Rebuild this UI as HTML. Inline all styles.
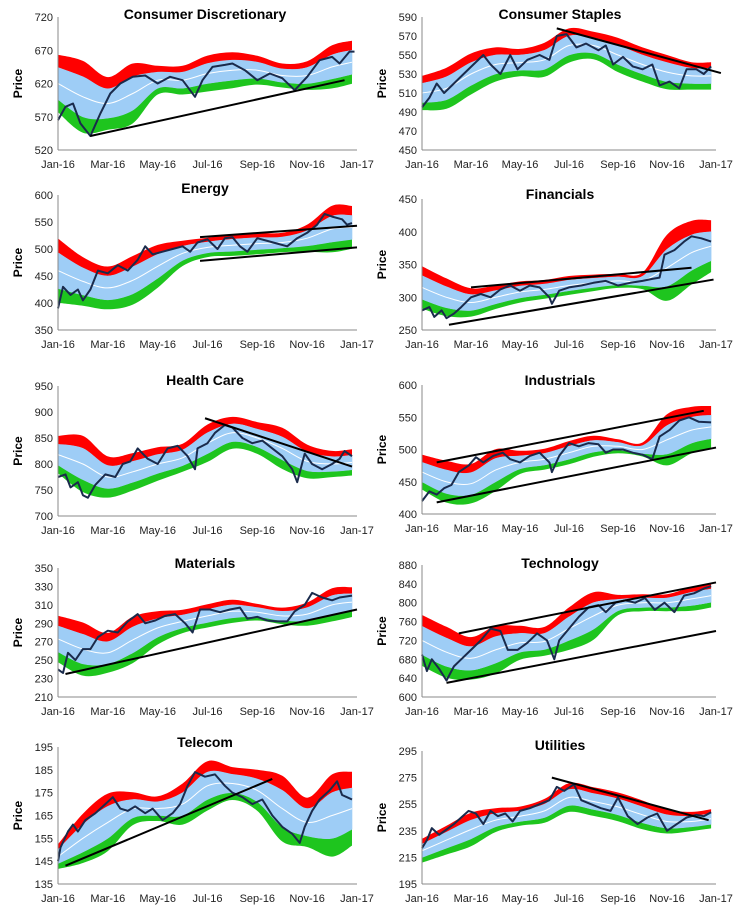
<!DOCTYPE html>
<html><head><meta charset="utf-8"><style>
html,body{margin:0;padding:0;background:#fff;}
svg{display:block;font-family:"Liberation Sans",sans-serif;}
</style></head><body>
<svg id="chart" width="742" height="912" viewBox="0 0 742 912" xmlns="http://www.w3.org/2000/svg"></svg>
<script>
// Shared band dates (months since Jan-16)
const bandX = [0,1,2,3,4,5,6,7,8,9,10,11,11.8];
const xTickLabels = ["Jan-16","Mar-16","May-16","Jul-16","Sep-16","Nov-16","Jan-17"];

// Consumer Discretionary
const cdMid = [620,600,590,605,625,625,635,640,640,632,632,645,652];
const cdW   = [24,30,22,25,12,12,15,15,12,10,12,18,18];
const cdPx  = [0,0.3,0.6,0.9,1.3,1.7,2.1,2.5,3,3.5,4,4.5,5,5.5,5.8,6.2,6.7,7,7.5,8,8.5,9,9.5,10,10.5,11,11.3,11.7,11.9];
const cdPy  = [565,585,590,560,541,575,605,620,630,632,620,630,625,600,625,645,648,650,640,625,635,628,610,630,655,660,650,668,668];
const cdTrend = [[1.3,541,11.5,625]];
const cdTicks = [520,570,620,670,720];

// Consumer Staples
const csMid = [510,515,530,540,542,545,560,560,550,540,532,528,528];
const csW   = [10,12,12,10,8,10,10,8,10,10,10,8,8];
const csPx  = [0,0.3,0.6,0.9,1.3,1.7,2.1,2.5,2.8,3.2,3.6,3.9,4.3,4.8,5.2,5.5,5.9,6.3,6.7,7.2,7.5,7.8,8.2,8.6,9,9.4,9.7,10.1,10.5,10.8,11.2,11.5,11.8];
const csPy  = [495,505,520,510,520,530,540,550,540,530,550,535,545,550,545,570,572,558,562,555,560,540,548,538,535,540,518,522,515,535,535,530,538];
const csTrend = [[5.5,578,12.2,531]];
const csTicks = [450,470,490,510,530,550,570,590];

// Energy
const enMid = [460,440,428,442,468,492,503,507,510,512,520,537,540];
const enW   = [33,25,22,25,22,13,10,11,11,10,14,24,22];
const enPx  = [0,0.2,0.5,0.8,1.0,1.3,1.6,2.0,2.4,2.8,3.2,3.5,3.8,4.2,4.6,5,5.3,5.6,6,6.4,6.7,7,7.3,7.6,8,8.4,8.8,9.2,9.6,10,10.4,10.7,11,11.4,11.6,11.8];
const enPy  = [390,430,415,425,405,425,460,455,470,460,480,505,490,495,500,505,495,512,518,500,520,522,505,495,520,515,510,505,520,530,545,565,560,555,545,548];
const enTrend = [[5.7,522,12,543],[5.7,478,12,503]];
const enTicks = [350,400,450,500,550,600];

// Financials
const fiMid = [315,300,292,300,308,312,318,322,325,325,345,368,378];
const fiW   = [18,16,12,10,9,8,8,7,6,7,28,27,22];
const fiPx  = [0,0.3,0.5,0.8,1,1.3,1.6,2,2.4,2.8,3.2,3.6,4,4.4,4.8,5.2,5.3,5.6,6,6.5,7,7.5,8,8.5,9,9.4,9.7,9.9,10.3,10.7,11,11.4,11.8];
const fiPy  = [280,285,270,280,268,275,285,300,305,300,312,318,310,318,315,300,290,310,315,318,322,325,318,322,325,328,330,365,372,385,393,390,385];
const fiTrend = [[2.0,315,11.0,345],[1.1,258,11.9,327]];
const fiTicks = [250,300,350,400,450];

// Health Care
const hcMid = [818,800,775,785,800,812,840,860,850,830,805,800,803];
const hcW   = [20,30,22,20,18,15,20,17,17,22,18,14,14];
const hcPx  = [0,0.3,0.5,0.8,1.0,1.2,1.5,1.9,2.3,2.6,2.9,3.2,3.6,4,4.4,4.8,5.2,5.5,5.6,6,6.3,6.7,7,7.4,7.8,8.2,8.6,9,9.4,9.6,9.9,10.2,10.6,11,11.3,11.5,11.8];
const hcPy  = [775,780,755,765,740,735,760,780,775,800,805,830,810,800,830,835,815,790,830,840,860,875,870,850,840,845,830,815,790,765,820,800,790,800,810,825,815];
const hcTrend = [[5.9,888,11.8,795]];
const hcTicks = [700,750,800,850,900,950];

// Industrials
const inMid = [465,450,447,468,480,485,495,505,505,500,515,530,535];
const inW   = [15,18,17,18,10,9,10,9,6,6,22,20,18];
const inPx  = [0,0.3,0.6,0.9,1.2,1.5,1.9,2.2,2.5,2.9,3.3,3.6,4,4.4,4.8,5.2,5.3,5.6,6,6.4,6.8,7.2,7.5,7.8,8.2,8.6,9,9.4,9.7,10.1,10.5,10.9,11.3,11.8];
const inPy  = [420,435,430,440,445,465,475,488,480,490,495,485,480,490,495,480,465,490,510,505,510,508,495,500,500,495,492,485,520,530,545,550,543,542];
const inTrend = [[0.6,480,11.5,560],[0.6,418,12,503]];
const inTicks = [400,450,500,550,600];

// Materials
const maMid = [273,262,258,272,285,292,298,303,302,298,300,310,313];
const maW   = [14,16,12,14,10,7,7,7,5,5,7,10,9];
const maPx  = [0,0.2,0.4,0.7,1,1.3,1.6,2,2.4,2.8,3.2,3.5,3.9,4.3,4.7,5.1,5.4,5.7,6.1,6.5,6.9,7.3,7.6,8,8.4,8.8,9.2,9.5,9.9,10.2,10.6,11,11.3,11.8];
const maPy  = [240,236,258,250,262,262,275,282,280,292,300,290,293,298,300,290,280,305,305,302,305,307,295,297,293,292,292,303,310,323,318,315,318,320];
const maTrend = [[0.3,235,12,305]];
const maTicks = [210,230,250,270,290,310,330,350];

// Technology
const teMid = [720,695,682,700,715,718,745,772,795,800,800,808,815];
const teW   = [30,30,25,28,20,17,25,28,12,10,10,14,14];
const tePx  = [0,0.2,0.4,0.7,1,1.3,1.6,2,2.4,2.8,3.2,3.5,3.9,4.3,4.7,5.1,5.4,5.6,6,6.4,6.8,7.2,7.5,7.9,8.3,8.7,9.1,9.5,9.9,10.3,10.7,11.1,11.5,11.8];
const tePy  = [690,655,680,660,635,665,680,700,720,745,740,700,700,715,735,720,680,720,745,770,790,795,780,800,805,800,810,785,800,780,815,820,830,835];
const teTrend = [[1.5,735,12,843],[1,630,12,740]];
const teTicks = [600,640,680,720,760,800,840,880];

// Telecom
const tlMid = [147,155,162,168,168,170,178,179,176,168,162,165,168];
const tlW   = [3,6,7,4,3,5,6,4,5,8,6,10,9];
const tlPx  = [0,0.1,0.4,0.6,0.8,1.1,1.5,1.9,2.2,2.5,2.8,3.1,3.5,3.8,4.2,4.6,4.9,5.2,5.5,5.9,6.3,6.7,7,7.4,7.8,8.2,8.6,9,9.4,9.7,9.9,10.2,10.5,10.9,11.2,11.4,11.6,11.8];
const tlPy  = [145,151,158,161,158,163,166,170,173,168,167,169,166,168,163,166,170,178,184,182,183,178,175,173,170,172,165,160,157,153,160,167,172,176,180,174,173,172];
const tlTrend = [[0.3,143,8.6,181]];
const tlTicks = [135,145,155,165,175,185,195];

// Utilities
const utMid = [220,228,236,243,246,250,260,257,253,247,242,242,244];
const utW   = [5,6,7,5,4,5,6,6,6,6,5,4,4];
const utPx  = [0,0.2,0.4,0.7,1,1.3,1.6,1.9,2.2,2.5,2.8,3.1,3.4,3.7,4,4.4,4.8,5.2,5.5,5.8,6.2,6.5,6.9,7.3,7.7,8,8.4,8.8,9.2,9.6,10,10.4,10.8,11.2,11.5,11.8];
const utPy  = [222,228,237,232,236,240,245,250,248,240,250,246,248,242,250,252,255,258,268,265,270,258,255,252,250,260,246,240,245,248,235,240,245,247,246,249];
const utTrend = [[5.3,275,11.7,243]];
const utTicks = [195,215,235,255,275,295];

const panels = [
 {key:"consumer-discretionary",title:"Consumer Discretionary",mid:cdMid,w:cdW,px:cdPx,py:cdPy,trend:cdTrend,ticks:cdTicks,col:0,top:17,bot:150,ty:14},
 {key:"consumer-staples",title:"Consumer Staples",mid:csMid,w:csW,px:csPx,py:csPy,trend:csTrend,ticks:csTicks,col:1,top:17,bot:150,ty:14},
 {key:"energy",title:"Energy",mid:enMid,w:enW,px:enPx,py:enPy,trend:enTrend,ticks:enTicks,col:0,top:195,bot:330,ty:188},
 {key:"financials",title:"Financials",mid:fiMid,w:fiW,px:fiPx,py:fiPy,trend:fiTrend,ticks:fiTicks,col:1,top:199,bot:330,ty:194},
 {key:"health-care",title:"Health Care",mid:hcMid,w:hcW,px:hcPx,py:hcPy,trend:hcTrend,ticks:hcTicks,col:0,top:386,bot:516,ty:380},
 {key:"industrials",title:"Industrials",mid:inMid,w:inW,px:inPx,py:inPy,trend:inTrend,ticks:inTicks,col:1,top:385,bot:514,ty:380},
 {key:"materials",title:"Materials",mid:maMid,w:maW,px:maPx,py:maPy,trend:maTrend,ticks:maTicks,col:0,top:568,bot:697,ty:563},
 {key:"technology",title:"Technology",mid:teMid,w:teW,px:tePx,py:tePy,trend:teTrend,ticks:teTicks,col:1,top:565,bot:697,ty:563},
 {key:"telecom",title:"Telecom",mid:tlMid,w:tlW,px:tlPx,py:tlPy,trend:tlTrend,ticks:tlTicks,col:0,top:747,bot:884,ty:742},
 {key:"utilities",title:"Utilities",mid:utMid,w:utW,px:utPx,py:utPy,trend:utTrend,ticks:utTicks,col:1,top:751,bot:884,ty:745}
];

const NS="http://www.w3.org/2000/svg";
const svg=document.getElementById('chart');
function mk(tag,attrs,parent){const e=document.createElementNS(NS,tag);for(const k in attrs)e.setAttribute(k,attrs[k]);(parent||svg).appendChild(e);return e;}

function smoothSeg(pts){ // catmull-rom C segments from pts[0]
  let d="";
  for(let i=0;i<pts.length-1;i++){
    const p0=pts[Math.max(0,i-1)],p1=pts[i],p2=pts[i+1],p3=pts[Math.min(pts.length-1,i+2)];
    const c1=[p1[0]+(p2[0]-p0[0])/6,p1[1]+(p2[1]-p0[1])/6];
    const c2=[p2[0]-(p3[0]-p1[0])/6,p2[1]-(p3[1]-p1[1])/6];
    d+=` C${c1[0].toFixed(1)},${c1[1].toFixed(1)} ${c2[0].toFixed(1)},${c2[1].toFixed(1)} ${p2[0].toFixed(1)},${p2[1].toFixed(1)}`;
  }
  return d;
}
function bandPath(up,lo){
  const lr=lo.slice().reverse();
  return `M${up[0][0]},${up[0][1]}`+smoothSeg(up)+` L${lr[0][0]},${lr[0][1]}`+smoothSeg(lr)+" Z";
}

panels.forEach(p=>{
  const x0=p.col?422:58, x1=p.col?716:357;
  const yMin=p.ticks[0], yMax=p.ticks[p.ticks.length-1];
  const X=m=>x0+(x1-x0)*m/12;
  const Y=v=>p.bot-(p.bot-p.top)*(v-yMin)/(yMax-yMin);
  const g=mk('g',{});
  
  

  const line=(f)=>bandX.map((m,i)=>[X(m),Y(f(i))]);
  const redTop=line(i=>p.mid[i]+1.8*p.w[i]);
  const blueTop=line(i=>p.mid[i]+p.w[i]);
  const blueBot=line(i=>p.mid[i]-p.w[i]);
  const greenBot=line(i=>p.mid[i]-1.8*p.w[i]);
  const midL=line(i=>p.mid[i]);

  const red=mk('path',{d:bandPath(redTop,blueTop),fill:'#ff0000'},g);
  
  
  const green=mk('path',{d:bandPath(blueBot,greenBot),fill:'#1ec51e'},g);
  
  
  const blue=mk('path',{d:bandPath(blueTop,blueBot),fill:'#9ecdf6',stroke:'#9ecdf6','stroke-width':0.6},g);
  
  
  const ml=mk('path',{d:`M${midL[0][0]},${midL[0][1]}`+smoothSeg(midL),fill:'none',stroke:'#ffffff','stroke-width':1},g);
  
  

  const pd=p.px.map((m,i)=>(i?'L':'M')+X(m).toFixed(1)+','+Y(p.py[i]).toFixed(1)).join(' ');
  const pl=mk('path',{d:pd,fill:'none',stroke:'#1a2b4c','stroke-width':2,'stroke-linejoin':'round'},g);
  
  

  p.trend.forEach((t,i)=>{
    const tl=mk('line',{x1:X(t[0]),y1:Y(t[1]),x2:X(t[2]),y2:Y(t[3]),stroke:'#000','stroke-width':2},g);
    
    
  });

  const ax=mk('line',{x1:x0,y1:p.top,x2:x0,y2:p.bot,stroke:'#888','stroke-width':1},g);
  
  
  const bx=mk('line',{x1:x0,y1:p.bot,x2:x1,y2:p.bot,stroke:'#888','stroke-width':1},g);
  
  

  p.ticks.forEach(v=>{
    const t=mk('text',{x:x0-5,y:Y(v)+4,'text-anchor':'end','font-size':11,fill:'#222'},g);
    t.textContent=v;
    
    
  });
  xTickLabels.forEach((lab,i)=>{
    const t=mk('text',{x:X(i*2),y:p.bot+18,'text-anchor':'middle','font-size':11,fill:'#222'},g);
    t.textContent=lab;
    
    
  });
  const yc=(p.top+p.bot)/2;
  const yt=mk('text',{x:x0-36,y:yc,'text-anchor':'middle','font-size':12,'font-weight':'bold',fill:'#000',transform:`rotate(-90 ${x0-36} ${yc})`},g);
  yt.textContent='Price';
  
  
  const tt=mk('text',{x:p.col?560:205,y:p.ty+5,'text-anchor':'middle','font-size':14,'font-weight':'bold',fill:'#000'},g);
  tt.textContent=p.title;
  
  
});
</script>
</body></html>
